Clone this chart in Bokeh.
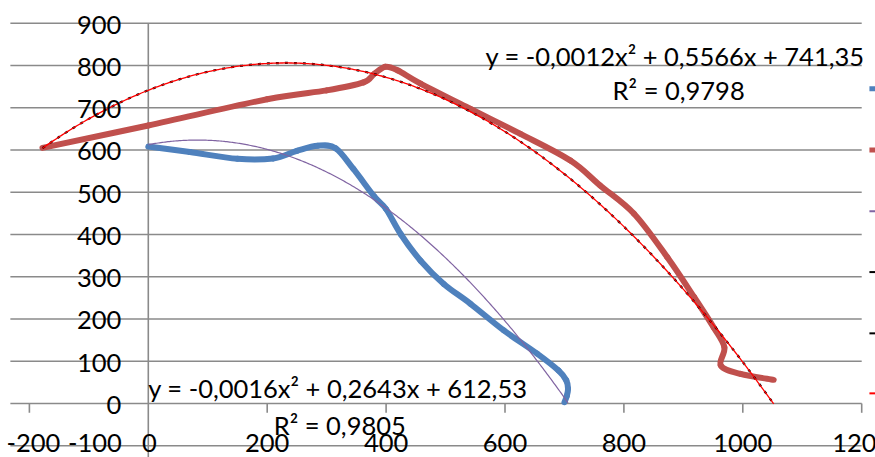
import numpy as np
from bokeh.plotting import figure
from bokeh.models import Range1d, Label
from bokeh.core.properties import value
from bokeh.embed import file_html
from bokeh.resources import INLINE

# ---- data ----
blue_x = [0, 70, 150, 210, 250, 285, 315, 345, 380, 400, 425, 458, 497, 542, 598, 654, 690, 703, 706, 704, 700]
blue_y = [608, 595, 579, 580, 598, 610, 604, 555, 490, 460, 400, 338, 283, 236, 173, 118, 78, 55, 35, 18, 3]

red_x = [-178, 0, 200, 300, 362, 380, 399, 420, 458, 542, 626, 710, 760, 817, 873, 918, 951, 969, 963, 996, 1052]
red_y = [605, 658, 720, 741, 760, 780, 797, 788, 757, 697, 638, 575, 516, 449, 346, 252, 180, 133, 90, 70, 56]

# polynomial trendlines as printed on the chart (a*x^2 + b*x + c)
blue_trend = [-0.0016, 0.2643, 612.53]
red_trend = [-0.0012, 0.5566, 741.35]
blue_eq = "y = -0,0016x\u00b2 + 0,2643x + 612,53"
blue_r2 = "R\u00b2 = 0,9805"
red_eq = "y = -0,0012x\u00b2 + 0,5566x + 741,35"
red_r2 = "R\u00b2 = 0,9798"

y_ticks = [0, 100, 200, 300, 400, 500, 600, 700, 800, 900]
y_tick_labels = ["0", "100", "200", "300", "400", "500", "600", "700", "800", "900"]
x_ticks = [-200, -100, 0, 200, 400, 600, 800, 1000, 1200]
x_tick_labels = ["-200", "-100", "0", "200", "400", "600", "800", "1000", "1200"]
grid_y = [-100, 100, 200, 300, 400, 500, 600, 700, 800, 900]

FONT = value("Lato")
FS = "25.5px"
GRID = "#8a8a8a"

p = figure(width=875, height=457,
           x_range=Range1d(-248.6, 1223.2), y_range=Range1d(-127.8, 953.7),
           output_backend="svg", toolbar_location=None,
           x_axis_location=None, y_axis_location=None,
           min_border=0, min_border_left=0, min_border_right=0,
           min_border_top=0, min_border_bottom=0)
p.xgrid.visible = False
p.ygrid.visible = False
p.outline_line_color = None
p.background_fill_color = "white"
p.border_fill_color = "white"

x_left, x_right = -232, 1200
# gridlines
p.segment(x0=[x_left] * len(grid_y), x1=[x_right] * len(grid_y), y0=grid_y, y1=grid_y,
          line_color=GRID, line_width=1.6)
# axis lines
p.segment(x0=[x_left], x1=[x_right], y0=[0], y1=[0], line_color=GRID, line_width=1.6)
p.segment(x0=[0], x1=[0], y0=[-140], y1=[900], line_color=GRID, line_width=1.6)
# x tick marks (at the y = 0 axis)
tick_x = [t for t in x_ticks if t % 200 == 0 and t != 0]
p.segment(x0=tick_x, x1=tick_x, y0=[0] * len(tick_x), y1=[-22] * len(tick_x),
          line_color=GRID, line_width=1.6)


def smooth_segments(xs, ys):
    """Bezier control points (Catmull-Rom style, like a spreadsheet's smoothed line)."""
    P = np.column_stack([xs, ys]).astype(float)
    Q = np.vstack([P[0], P, P[-1]])
    n = len(P) - 1
    x0, y0, x1, y1, cx0, cy0, cx1, cy1 = ([] for _ in range(8))
    for i in range(n):
        a, b, c, d = Q[i], Q[i + 1], Q[i + 2], Q[i + 3]
        c0 = b + (c - a) / 6.0
        c1 = c - (d - b) / 6.0
        x0.append(b[0]); y0.append(b[1]); x1.append(c[0]); y1.append(c[1])
        cx0.append(c0[0]); cy0.append(c0[1]); cx1.append(c1[0]); cy1.append(c1[1])
    return dict(x0=x0, y0=y0, x1=x1, y1=y1, cx0=cx0, cy0=cy0, cx1=cx1, cy1=cy1)


# series (smoothed)
p.bezier(**smooth_segments(blue_x, blue_y), line_color="#4F81BD", line_width=6, line_cap="round")
p.bezier(**smooth_segments(red_x, red_y), line_color="#C0504D", line_width=6, line_cap="round")

# trendlines
bx = np.linspace(min(blue_x), max(blue_x), 300)
by = blue_trend[0] * bx ** 2 + blue_trend[1] * bx + blue_trend[2]
rx = np.linspace(min(red_x), max(red_x), 400)
ry = red_trend[0] * rx ** 2 + red_trend[1] * rx + red_trend[2]
p.line(bx, by, line_color="#8064A2", line_width=1.2)
p.line(rx, ry, line_color="black", line_width=2.2, line_dash="3 6")
p.line(rx, ry, line_color="#FF0000", line_width=1.3)

# tick labels
p.text(x=[0] * len(y_ticks), y=y_ticks, text=y_tick_labels, x_offset=-27, y_offset=1.5,
       text_align="right", text_baseline="middle", text_font=FONT, text_font_size=FS,
       text_color="black")
x_label_offsets = [4, 6, 1, 0, 0, 0, 0, 0, 0]
p.text(x=x_ticks, y=[-100] * len(x_ticks), text=x_tick_labels, x_offset=x_label_offsets,
       y_offset=-3, text_align="center", text_baseline="middle", text_font=FONT,
       text_font_size=FS, text_color="black")

# equations
for (tx, ty, txt) in [(0, 35.5, blue_eq), (211, -52, blue_r2), (567, 823, red_eq), (781, 742, red_r2)]:
    p.add_layout(Label(x=tx, y=ty, text=txt, text_align="left", text_baseline="middle",
                       text_font="Lato", text_font_size=FS, text_color="black"))

# legend stubs (cut off at right edge)
leg_y = [745, 600, 455, 311, 166, 24]
leg_c = ["#4F81BD", "#C0504D", "#8064A2", "black", "black", "#FF0000"]
leg_w = [5, 5, 2, 2, 2, 2]
p.segment(x0=[1213] * 6, x1=[1240] * 6, y0=leg_y, y1=leg_y, line_color=leg_c, line_width=leg_w)

open("out.html", "w").write(file_html(p, INLINE))
